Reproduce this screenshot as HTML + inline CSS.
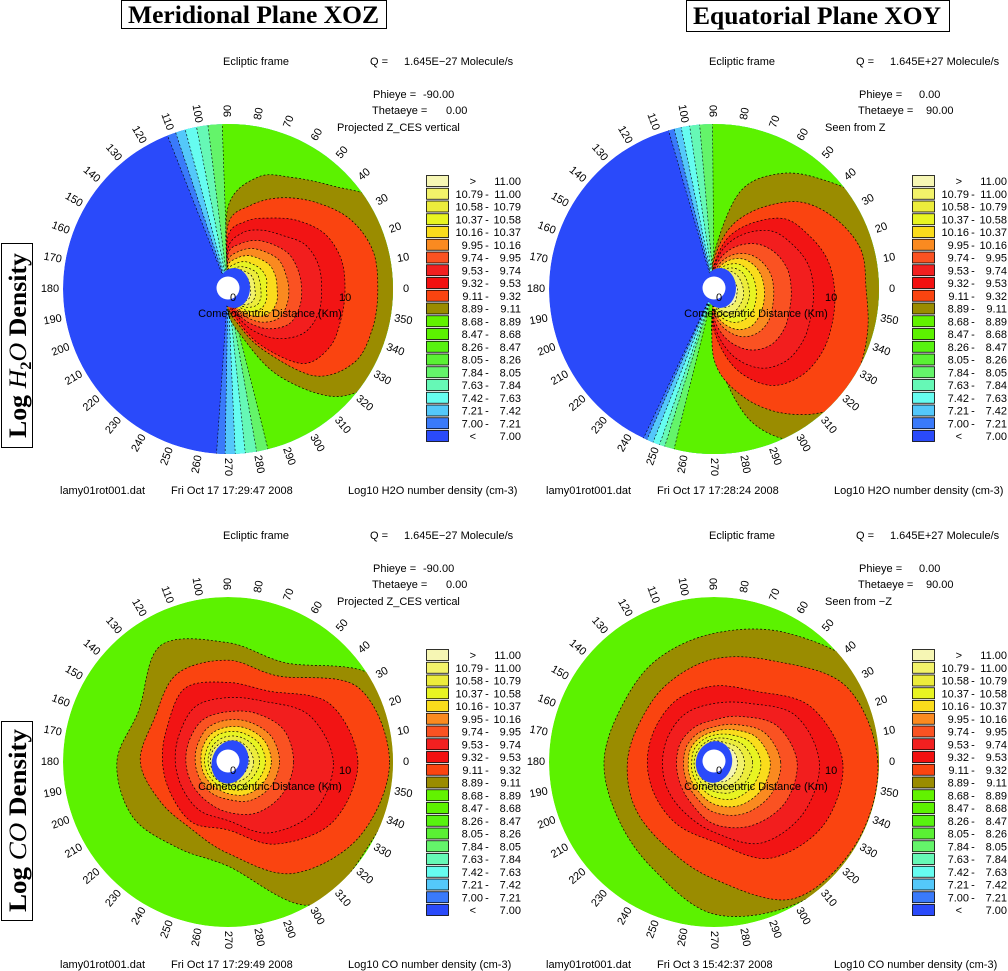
<!DOCTYPE html>
<html><head><meta charset="utf-8"><style>
html,body{margin:0;padding:0;background:#fff;}
svg{display:block;}
.t{font-family:"Liberation Sans",sans-serif;font-size:11px;fill:#000;}
.al{font-family:"Liberation Sans",sans-serif;font-size:11px;fill:#000;}
.ti{font-family:"Liberation Serif",serif;font-weight:bold;font-size:25px;fill:#000;}
</style></head><body>
<svg id="fig" width="1008" height="971" viewBox="0 0 1008 971" xmlns="http://www.w3.org/2000/svg">
<rect x="0" y="0" width="1008" height="971" fill="#fff"/>
<g>
<rect x="121.5" y="0.5" width="265" height="28" fill="none" stroke="#000"/>
<text class="ti" x="128" y="23" textLength="251" lengthAdjust="spacingAndGlyphs">Meridional Plane XOZ</text>
</g>
<g>
<rect x="686.5" y="0.5" width="263" height="31" fill="none" stroke="#000"/>
<text class="ti" x="693" y="24" textLength="248" lengthAdjust="spacingAndGlyphs">Equatorial Plane XOY</text>
</g>
<g>
<rect x="1.5" y="243.5" width="31" height="204" fill="none" stroke="#000"/>
<text class="ti" transform="translate(26,438) rotate(-90)" textLength="185" lengthAdjust="spacingAndGlyphs">Log <tspan font-style="italic" font-weight="normal">H</tspan><tspan font-size="16" dy="5">2</tspan><tspan dy="-5" font-style="italic" font-weight="normal">O</tspan> Density</text>
</g>
<g>
<rect x="1.5" y="721.5" width="31" height="199" fill="none" stroke="#000"/>
<text class="ti" transform="translate(26,912) rotate(-90)" textLength="183" lengthAdjust="spacingAndGlyphs">Log <tspan font-style="italic" font-weight="normal">CO</tspan> Density</text>
</g>
</svg>
<script>
// ---------- data ----------
const topAngles = [-90,-75,-60,-45,-30,-15,0,15,30,45,60,75,90];
const botAngles = [0,30,60,90,120,150,180,210,240,270,300,330];
const contourLevels = ['8.89','9.11','9.32','9.53','9.74','9.95','10.16','10.37','10.58','10.79','11.00'];
const wedgeLevels = ['7.00','7.21','7.42','7.63','7.84','8.05'];
// radii in km for each contour level (top panels: angles topAngles)
const tlContours = [
 [2,4,8.5,13,15,15,15,15,15,12.5,11,9.9,7],
 [1.5,3,6,10.5,12.5,12.8,12.8,12.8,12,10.5,9,7.4,5.5],
 [1,2.5,5.5,9,10,10,10,10,9.5,8.3,7,6,4.5],
 [0.8,2,4,6,7.5,8,8,8,7.6,6.5,5.8,5,3.5],
 [0.6,1.6,3.2,4.8,6,6.3,6.3,6.2,6,5.4,4.8,4,3],
 [0.5,1.3,2.6,4,5,5.2,5.2,5.1,5,4.5,4,3.3,2.4],
 [0.4,1.1,2.1,3.3,4.1,4.3,4.2,4.2,4.1,3.7,3.3,2.7,2],
 [0.4,0.9,1.7,2.7,3.3,3.4,3.3,3.4,3.3,3,2.7,2.2,1.6],
 [0.3,0.8,1.4,2.2,2.8,2.9,2.8,2.8,2.8,2.5,2.2,1.8,1.3],
 [0.3,0.7,1.2,1.9,2.3,2.4,2.3,2.3,2.3,2.1,1.9,1.5,1.1],
 [0.2,0.6,1,1.5,1.9,2,1.9,1.9,1.9,1.7,1.5,1.2,0.9]
];
const trContours = [
 [5,11.5,15,15,15,15,15,15,15,13.2,11.4,8.6,3],
 [6,9.5,12.3,14.4,14.2,13.6,13,13,12,10.5,8,5.5,2.5],
 [3.5,7,9.5,10.5,10.7,10.5,10.3,10,9.3,8.5,6.5,4.5,2],
 [3,5.8,7.8,8.7,8.8,8.6,8.5,8.3,7.7,7,5.5,3.8,1.8],
 [2.5,4.5,6,6.8,6.9,6.7,6.6,6.5,6.1,5.4,4.3,3,1.5],
 [2,3.5,4.7,5.3,5.4,5.2,5.1,5,4.7,4.2,3.4,2.4,1.2],
 [1.7,3,4,4.5,4.5,4.4,4.3,4.2,4,3.6,2.9,2,1],
 [1.5,2.5,3.3,3.7,3.8,3.7,3.6,3.5,3.3,3,2.4,1.7,0.9],
 [1.3,2.1,2.8,3.1,3.1,3.1,3,2.9,2.8,2.5,2,1.4,0.8],
 [1.1,1.8,2.3,2.6,2.6,2.6,2.5,2.4,2.3,2.1,1.7,1.2,0.7],
 [0.9,1.4,1.8,2,2.1,2,2,1.9,1.8,1.7,1.4,1,0.6]
];
// bottom panels: angles botAngles
const blContours = [
 [15,14.5,9.8,10.2,11.5,8.8,9.5,9.4,8.5,8.9,14.1,14],
 [13.8,12.8,8.5,8.7,8.7,7.3,7.5,6.7,6.5,7.8,11,12.9],
 [11.1,10,7,6.8,7.3,6,5.6,5.6,6,5.8,8.1,10.3],
 [9,8,6,5.5,5.5,4.8,4.5,4.5,4.8,5,7,8.5],
 [5.6,5.5,4.8,4.3,4.2,3.8,3.6,3.6,3.8,4.3,5,5.4],
 [4.4,4.3,3.9,3.6,3.4,3,2.8,2.8,3,3.2,3.8,4.2],
 [3.7,3.6,3.3,3,2.8,2.5,2.3,2.3,2.4,2.7,3.2,3.5],
 [3.2,3.1,2.8,2.6,2.4,2.1,2,2,2.1,2.3,2.7,3],
 [2.7,2.6,2.4,2.2,2,1.8,1.7,1.7,1.8,2,2.3,2.5],
 [2.2,2.1,2,1.8,1.7,1.6,1.5,1.5,1.6,1.7,1.9,2.1],
 [1.8,1.8,1.6,1.5,1.4,1.3,1.3,1.3,1.3,1.4,1.6,1.7]
];
const brContours = [
 [15,15,12.7,11,10,9.2,9.4,9.5,10.5,13,14,15],
 [14,13,10,8.8,7.8,7.2,7.4,7.8,8.3,10,13.5,14],
 [11,9.5,7,6.5,6.2,5.8,5.7,5.8,6.2,6.8,9.5,10.8],
 [9,8,5.8,5,4.8,4.5,4.4,4.6,5,6,8,8.8],
 [7.1,6.2,4.5,3.6,3.4,3.3,3.2,3.4,4,5.3,6.3,7],
 [5.7,5,3.7,3,2.8,2.7,2.6,2.8,3.3,4.3,5.1,5.6],
 [4.8,4.2,3.2,2.6,2.4,2.3,2.2,2.4,2.8,3.6,4.3,4.7],
 [4,3.5,2.7,2.3,2.1,2,1.9,2.1,2.4,3,3.6,3.9],
 [3.3,2.9,2.3,2,1.8,1.7,1.7,1.8,2.1,2.5,3,3.2],
 [2.6,2.4,1.9,1.8,1.6,1.5,1.5,1.6,1.8,2,2.4,2.6],
 [2,1.9,1.6,1.5,1.4,1.3,1.3,1.4,1.5,1.6,1.9,2]
];
// wedge (fan) boundary angles in degrees for levels wedgeLevels
const tlWedgeUpper = [111.5,108.5,105,101,97,92];
const tlWedgeLower = [266,269,272.5,276,280,284];
const trWedgeUpper = [106,104,101.5,98.5,95,90.5];
const trWedgeLower = [244.7,246,248.3,250.7,252.6,256];
const legendLow = ['>','10.79','10.58','10.37','10.16','9.95','9.74','9.53','9.32','9.11','8.89','8.68','8.47','8.26','8.05','7.84','7.63','7.42','7.21','7.00','<'];
const legendHigh = ['11.00','11.00','10.79','10.58','10.37','10.16','9.95','9.74','9.53','9.32','9.11','8.89','8.68','8.47','8.26','8.05','7.84','7.63','7.42','7.21','7.00'];
// ---------- styles ----------
const legendColors = ['#f6f6b4','#f2f26a','#ecec3c','#e8f422','#fadc1c','#fa8a20','#fa5222','#f22020','#f21010','#fa4410','#9a8c00','#62f200','#5cf200','#58f210','#5af034','#64f46a','#66f8b6','#66fcf0','#54c8fa','#3a7afa','#2a4afa'];
const contourColors = ['#9a8c00','#fa4410','#f21414','#f21e1e','#fa5222','#fa8a20','#fadc1c','#e8f422','#ecec3c','#f2f26a','#f6f6b4'];
const wedgeColors = ['#3a7afa','#54c8fa','#66fcf0','#66f8b6','#64f46a','#5cf200'];
const R = 165, KM = 11.7, NS = 'http://www.w3.org/2000/svg';
const svg = document.getElementById('fig');
function mk(tag, attrs, parent){ const e=document.createElementNS(NS,tag); for(const k in attrs) e.setAttribute(k,attrs[k]); (parent||svg).appendChild(e); return e; }
function P(c,a,km){ const r=km*KM, t=a*Math.PI/180; return [c[0]+r*Math.cos(t), c[1]-r*Math.sin(t)]; }
function smooth(pts){ const n=pts.length; let d='M'+pts[0][0].toFixed(1)+','+pts[0][1].toFixed(1);
 for(let i=0;i<n;i++){ const p0=pts[(i-1+n)%n],p1=pts[i],p2=pts[(i+1)%n],p3=pts[(i+2)%n];
  const c1=[p1[0]+(p2[0]-p0[0])/6,p1[1]+(p2[1]-p0[1])/6], c2=[p2[0]-(p3[0]-p1[0])/6,p2[1]-(p3[1]-p1[1])/6];
  d+=' C'+c1.map(v=>v.toFixed(1))+' '+c2.map(v=>v.toFixed(1))+' '+p2.map(v=>v.toFixed(1)); }
 return d+'Z'; }
function sector(c,a1,a2){ const rr=R+6, p1=P(c,a1,rr/KM), p2=P(c,a2,rr/KM); const large=(a2-a1)>180?1:0;
 return `M${c[0]},${c[1]} L${p1[0].toFixed(1)},${p1[1].toFixed(1)} A${rr},${rr} 0 ${large} 0 ${p2[0].toFixed(1)},${p2[1].toFixed(1)}Z`; }

function panel(id, c, opts){
 const g = mk('g',{});
 
 
 const clip = mk('clipPath',{id:id+'-clip'}, g); mk('circle',{cx:c[0],cy:c[1],r:R},clip);
 const plot = mk('g',{'clip-path':`url(#${id}-clip)`}, g);
 
 
 const bg = mk('circle',{cx:c[0],cy:c[1],r:R,fill:opts.bg}, plot);
 
 
 if(opts.wU){ for(let i=0;i<opts.wU.length;i++){
   const w = mk('path',{d:sector(c,opts.wL[i]-360,opts.wU[i]),fill:wedgeColors[i],stroke:'#000','stroke-width':0.6,'stroke-dasharray':'2 2'}, plot);
   
   
 } }
 for(let L=0; L<opts.cont.length; L++){
   const pts = opts.angles.map((a,j)=>P(c,a,opts.cont[L][j]));
   if(opts.half) pts.unshift([c[0],c[1]]);
   const p = mk('path',{d:smooth(pts),fill:contourColors[L],stroke:'#000','stroke-width':0.7,'stroke-dasharray':'2 2'}, plot);
   
   
 }
 const blob = mk('ellipse',{cx:c[0]+opts.blob[0],cy:c[1]+opts.blob[1],rx:opts.blob[2],ry:opts.blob[3],fill:'#2a4afa',transform:`rotate(${opts.blob[4]} ${c[0]+opts.blob[0]} ${c[1]+opts.blob[1]})`}, plot);
 
 
 const hole = mk('circle',{cx:c[0],cy:c[1]-1,r:11.5,fill:'#fff'}, plot);
 
 
 for(let i=0;i<36;i++){ const th=i*10; const p=P(c,th,178/KM);
   const rot = (th<=90||th>=270)? -th : 180-th;
   const t = mk('text',{class:'al',x:p[0].toFixed(1),y:p[1].toFixed(1),'text-anchor':'middle','dominant-baseline':'central',transform:`rotate(${rot} ${p[0].toFixed(1)} ${p[1].toFixed(1)})`}, g);
   t.textContent = String(th);
   
   
 }
 const z = mk('text',{class:'t',x:c[0]+2,y:c[1]+12}, g); z.textContent='0';
 
 
 const tp = P(c,0,10);
 const ten = mk('text',{class:'t',x:tp[0]-6,y:c[1]+12}, g); ten.textContent='10';
 
 
 const ax = mk('text',{class:'t',x:c[0]+42,y:c[1]+28,'text-anchor':'middle'}, g); ax.textContent='Cometocentric Distance (Km)';
 
 
 const ox=opts.ox, oy=opts.oy;
 const hdr = [['Ecliptic frame',256,65,'middle'],['Q =',370,65,'start'],[opts.q,404,65,'start'],['Phieye =',373,98,'start'],[opts.phi,opts.phiX,98,'start'],['Thetaeye =',372,114,'start'],[opts.theta,opts.thetaX,114,'start'],[opts.note,opts.noteX,131,'start'],
  ['lamy01rot001.dat',60,494,'start'],[opts.date,171,494,'start'],[opts.foot,348,494,'start']];
 const hn = ['frame-label','q-label','q-value','phieye-label','phieye-value','thetaeye-label','thetaeye-value','view-note','file-name','timestamp','colorbar-title'];
 hdr.forEach((h,k)=>{ const t=mk('text',{class:'t',x:h[1]+ox,y:h[2]+oy,'text-anchor':h[3],'xml:space':'preserve'}, g); t.textContent=h[0];
   
    });
 const lg = mk('g',{}, g);
 
 
 for(let i=0;i<legendLow.length;i++){
   const y = 175+oy+i*12.75;
   const s = mk('rect',{x:426.5+ox,y:y+0.5,width:22,height:11,fill:legendColors[i],stroke:'#000','stroke-width':0.8}, lg);
   
   
   const a = mk('text',{class:'t',x:(legendLow[i].length===1?476:483)+ox,y:y+10,'text-anchor':'end'}, lg); a.textContent=legendLow[i];
   
   
   if(legendLow[i].length>1){ const dsh=mk('text',{class:'t',x:487+ox,y:y+10,'text-anchor':'middle'}, lg); dsh.textContent='-';
     
      }
   const b = mk('text',{class:'t',x:521+ox,y:y+10,'text-anchor':'end'}, lg); b.textContent=legendHigh[i];
   
   
 }
}
panel('h2o-meridional',[228,289],{bg:'#2a4afa',half:true,angles:topAngles,cont:tlContours,wU:tlWedgeUpper,wL:tlWedgeLower,blob:[6,-1,16,20,0],ox:0,oy:0,
 q:'1.645E\u221227 Molecule/s',phi:'-90.00',phiX:423,theta:'0.00',thetaX:446,note:'Projected Z_CES vertical',noteX:337,date:'Fri Oct 17  17:29:47  2008',foot:'Log10 H2O number density (cm-3)'});
panel('h2o-equatorial',[714,289],{bg:'#2a4afa',half:true,angles:topAngles,cont:trContours,wU:trWedgeUpper,wL:trWedgeLower,blob:[6,-1,16,20,0],ox:486,oy:0,
 q:'1.645E+27 Molecule/s',phi:'0.00',phiX:433,theta:'90.00',thetaX:440,note:'Seen from   Z',noteX:339,date:'Fri Oct 17  17:28:24  2008',foot:'Log10 H2O number density (cm-3)'});
panel('co-meridional',[228,762],{bg:'#5cf200',half:false,angles:botAngles,cont:blContours,blob:[2,0,18,22,20],ox:0,oy:474,
 q:'1.645E\u221227 Molecule/s',phi:'-90.00',phiX:423,theta:'0.00',thetaX:446,note:'Projected Z_CES vertical',noteX:337,date:'Fri Oct 17  17:29:49  2008',foot:'Log10 CO  number density (cm-3)'});
panel('co-equatorial',[714,762],{bg:'#5cf200',half:false,angles:botAngles,cont:brContours,blob:[0,0,18,21,15],ox:486,oy:474,
 q:'1.645E+27 Molecule/s',phi:'0.00',phiX:433,theta:'90.00',thetaX:440,note:'Seen from \u2212Z',noteX:339,date:'Fri Oct  3  15:42:37  2008',foot:'Log10 CO  number density (cm-3)'});
</script>
</body></html>
